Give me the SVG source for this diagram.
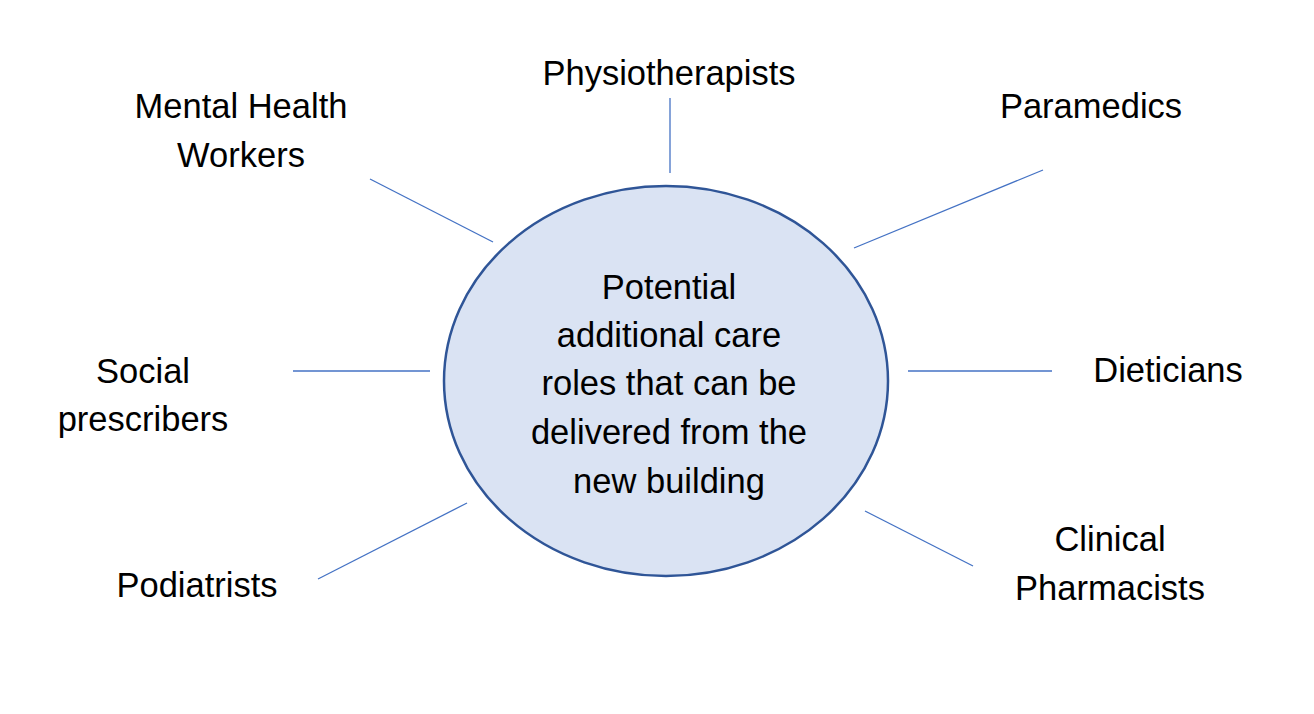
<svg xmlns="http://www.w3.org/2000/svg" width="1314" height="714" viewBox="0 0 1314 714">
<style>
.lbl{font-family:"Liberation Sans",Arial,sans-serif;font-size:34.5px;fill:#000;text-anchor:middle}
.con{stroke:#4472C4;stroke-width:1.3;fill:none}
</style>
<rect width="1314" height="714" fill="#fff"/>
<g id="connectors">
<line class="con" x1="670" y1="98" x2="670" y2="173"/>
<line class="con" x1="854" y1="248" x2="1043" y2="170"/>
<line class="con" x1="370" y1="179" x2="493" y2="242"/>
<line class="con" x1="293" y1="371" x2="430" y2="371"/>
<line class="con" x1="908" y1="371" x2="1052" y2="371"/>
<line class="con" x1="318" y1="579" x2="467" y2="503"/>
<line class="con" x1="865" y1="511" x2="973" y2="566"/>
</g>
<g id="center">
<ellipse cx="666" cy="381" rx="222" ry="195" fill="#DAE3F3" stroke="#2F5597" stroke-width="2.5"/>
<text class="lbl"><tspan x="669" y="299">Potential</tspan><tspan x="669" y="347">additional care</tspan><tspan x="669" y="395">roles that can be</tspan><tspan x="669" y="444">delivered from the</tspan><tspan x="669" y="493">new building</tspan></text>
</g>
<g id="physiotherapists"><text class="lbl" x="669" y="85">Physiotherapists</text></g>
<g id="paramedics"><text class="lbl" x="1091" y="118">Paramedics</text></g>
<g id="mental-health"><text class="lbl"><tspan x="241" y="118">Mental Health</tspan><tspan x="241" y="167">Workers</tspan></text></g>
<g id="social"><text class="lbl"><tspan x="143" y="383">Social</tspan><tspan x="143" y="431">prescribers</tspan></text></g>
<g id="dieticians"><text class="lbl" x="1168" y="382">Dieticians</text></g>
<g id="podiatrists"><text class="lbl" x="197" y="597">Podiatrists</text></g>
<g id="clinical"><text class="lbl"><tspan x="1110" y="551">Clinical</tspan><tspan x="1110" y="600">Pharmacists</tspan></text></g>
</svg>
